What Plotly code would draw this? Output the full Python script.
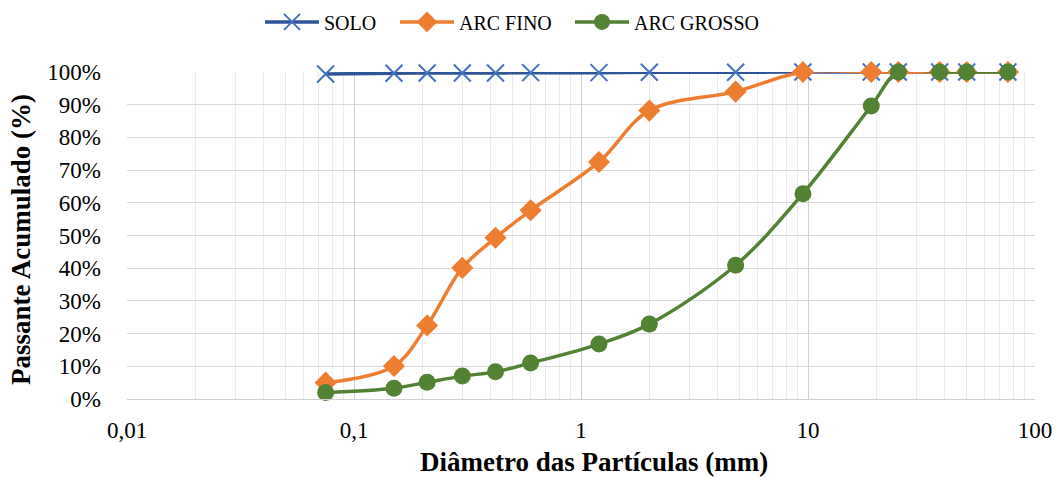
import plotly.graph_objects as go

diam = [0.075, 0.15, 0.21, 0.3, 0.42, 0.6, 1.2, 2.0, 4.8, 9.5, 19, 25, 38, 50, 76]
solo = [99.4, 99.6, 99.7, 99.7, 99.7, 99.8, 99.8, 99.9, 99.9, 100, 100, 100, 100, 100, 100]
arc_fino = [5.0, 10.1, 22.5, 40.1, 49.3, 57.7, 72.5, 88.2, 94.0, 100, 100, 100, 100, 100, 100]
arc_grosso = [2.0, 3.3, 5.1, 7.0, 8.3, 11.0, 16.8, 22.9, 40.9, 62.8, 89.6, 100, 100, 100, 100]

x_tickvals = [0.01, 0.1, 1, 10, 100]
x_ticktext = ["0,01", "0,1", "1", "10", "100"]
minor_vals = [m * 10 ** e for e in range(-2, 2) for m in range(2, 10)]

FONT = "Liberation Serif, Times New Roman, serif"
W, H = 1058, 480

fig = go.Figure()
fig.add_trace(go.Scatter(
    x=diam, y=solo, name="SOLO", mode="lines+markers", legend="legend",
    line=dict(color="#2F5597", width=3.5, shape="spline", smoothing=1),
    marker=dict(symbol="x-thin", size=17, line=dict(color="#4472C4", width=2), color="#4472C4"),
    cliponaxis=False,
))
fig.add_trace(go.Scatter(
    x=diam, y=arc_fino, name="ARC FINO", mode="lines+markers", legend="legend2",
    line=dict(color="#ED7D31", width=3.5, shape="spline", smoothing=1),
    marker=dict(symbol="diamond", size=17, color="#ED7D31"),
    cliponaxis=False,
))
fig.add_trace(go.Scatter(
    x=diam, y=arc_grosso, name="ARC GROSSO", mode="lines+markers", legend="legend3",
    line=dict(color="#548235", width=3.5, shape="spline", smoothing=1),
    marker=dict(symbol="circle", size=17, color="#548235"),
    cliponaxis=False,
))

def leg(xpx):
    return dict(orientation="h", xref="container", x=xpx / W, xanchor="left",
                yref="container", y=0.995, yanchor="top",
                font=dict(family=FONT, size=20), itemwidth=54,
                bgcolor="rgba(0,0,0,0)")

fig.update_layout(
    width=W, height=H,
    margin=dict(l=127, r=23, t=72, b=81),
    paper_bgcolor="white", plot_bgcolor="white",
    font=dict(family=FONT, size=23, color="#000000"),
    separators=",.",
    showlegend=True,
    legend=leg(260), legend2=leg(395), legend3=leg(570),
    xaxis=dict(
        type="log", range=[-2, 2], automargin=False,
        tickvals=x_tickvals, ticktext=x_ticktext,
        showgrid=True, gridcolor="#D0D0D0", gridwidth=1.3,
        minor=dict(tickvals=minor_vals, showgrid=True, gridcolor="#EBEBEB", gridwidth=1.2, ticks=""),
        showline=True, linecolor="#D0D0D0", linewidth=1.3,
        mirror=False, ticks="", zeroline=False,
        ticklabelstandoff=10,
        tickfont=dict(family=FONT, size=23),
    ),
    yaxis=dict(
        range=[0, 100], dtick=10, ticksuffix="%", automargin=False,
        showgrid=True, gridcolor="#D9D9D9", gridwidth=1.3,
        showline=False, zeroline=False, ticks="",
        ticklabelstandoff=25,
        tickfont=dict(family=FONT, size=23),
    ),
    annotations=[
        dict(text="<b>Diâmetro das Partículas (mm)</b>", xref="paper", yref="paper",
             x=(594 - 127) / (W - 127 - 23), y=-(462 - 399) / (399 - 72),
             xanchor="center", yanchor="middle", showarrow=False,
             font=dict(family=FONT, size=27, color="#000000")),
        dict(text="<b>Passante Acumulado (%)</b>", xref="paper", yref="paper",
             x=-(127 - 21) / (W - 127 - 23), y=(399 - 240) / (399 - 72),
             xanchor="center", yanchor="middle", textangle=-90, showarrow=False,
             font=dict(family=FONT, size=27, color="#000000")),
    ],
)

fig.write_html("out.html")
